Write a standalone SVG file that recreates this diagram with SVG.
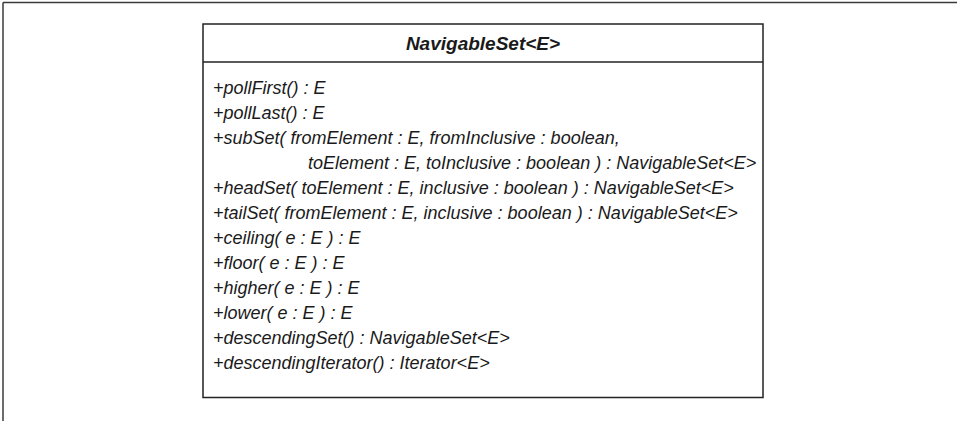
<svg xmlns="http://www.w3.org/2000/svg" width="957" height="421" viewBox="0 0 957 421">
<style>
.frame{fill:none;stroke:#3a3a3a;stroke-width:1.5}
.box{fill:#fff;stroke:#222;stroke-width:1.5}
.title{font-family:"Liberation Sans",Arial,sans-serif;font-size:19px;font-weight:bold;font-style:italic;fill:#1a1a1a}
.m{font-family:"Liberation Sans",Arial,sans-serif;font-size:18px;font-style:italic;fill:#1a1a1a}
</style>
<rect width="957" height="421" fill="#fff"/>
<g id="frame">
<line class="frame" x1="3" y1="2.5" x2="957" y2="2.5"/>
<line class="frame" x1="3" y1="2.5" x2="3" y2="421"/>
</g>
<g id="NavigableSet">
<rect class="box" x="203" y="24" width="560" height="373.5"/>
<line class="box" x1="203" y1="62" x2="763" y2="62"/>
<text class="title" x="483" y="50" text-anchor="middle">NavigableSet&lt;E&gt;</text>
<text class="m" x="213" y="94">+pollFirst() : E</text>
<text class="m" x="213" y="119">+pollLast() : E</text>
<text class="m" x="213" y="144">+subSet( fromElement : E, fromInclusive : boolean,</text>
<text class="m" x="308" y="169">toElement : E, toInclusive : boolean ) : NavigableSet&lt;E&gt;</text>
<text class="m" x="213" y="194">+headSet( toElement : E, inclusive : boolean ) : NavigableSet&lt;E&gt;</text>
<text class="m" x="213" y="219">+tailSet( fromElement : E, inclusive : boolean ) : NavigableSet&lt;E&gt;</text>
<text class="m" x="213" y="244">+ceiling( e : E ) : E</text>
<text class="m" x="213" y="269">+floor( e : E ) : E</text>
<text class="m" x="213" y="294">+higher( e : E ) : E</text>
<text class="m" x="213" y="319">+lower( e : E ) : E</text>
<text class="m" x="213" y="344">+descendingSet() : NavigableSet&lt;E&gt;</text>
<text class="m" x="213" y="369">+descendingIterator() : Iterator&lt;E&gt;</text>
</g>
<g id="connectors"/>
</svg>
